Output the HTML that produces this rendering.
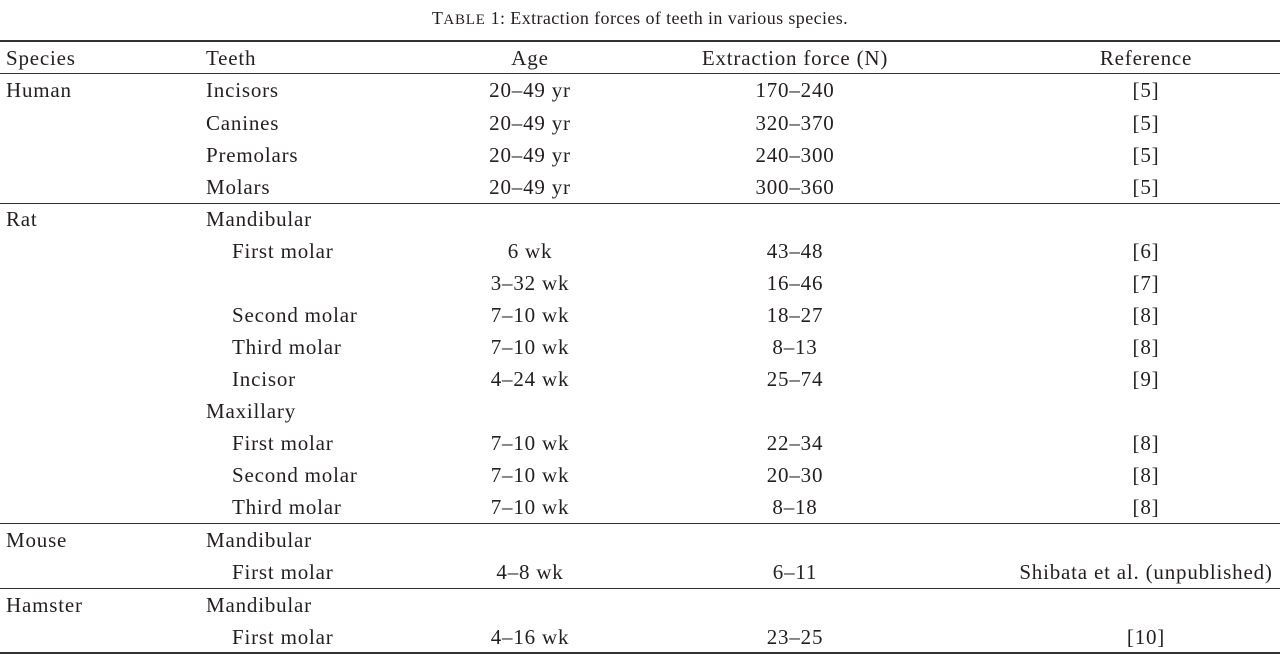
<!DOCTYPE html>
<html><head><style>
body{margin:0;width:1280px;height:654px;background:#fff;position:relative;overflow:hidden;font-family:"Liberation Serif",serif;color:#231f20;font-size:21px;letter-spacing:0.8px}
.r{position:absolute;left:0;width:1280px;height:1.5px;background:#333}
.t{position:absolute;line-height:32px;white-space:nowrap}
.c{position:absolute;line-height:32px;white-space:nowrap;transform:translateX(-50%)}
.sc{font-size:15px;letter-spacing:.8px}
</style></head><body>
<div class="c" style="left:640px;top:2px;font-size:18px;letter-spacing:0.4px">T<span class="sc">ABLE</span> 1: Extraction forces of teeth in various species.</div>
<div class="r" style="top:40px"></div>
<div class="r" style="top:73px;height:1px"></div>
<div class="r" style="top:203px;height:1px"></div>
<div class="r" style="top:523px;height:1px"></div>
<div class="r" style="top:588px;height:1px"></div>
<div class="r" style="top:652px"></div>
<div id="rows"></div>
<script>
var rows=[
[42,"Species","Teeth","Age","Extraction force (N)","Reference",0],
[74,"Human","Incisors","20–49 yr","170–240","[5]",0],
[107,"","Canines","20–49 yr","320–370","[5]",0],
[139,"","Premolars","20–49 yr","240–300","[5]",0],
[171,"","Molars","20–49 yr","300–360","[5]",0],
[203,"Rat","Mandibular","","","",0],
[235,"","First molar","6 wk","43–48","[6]",1],
[267,"","","3–32 wk","16–46","[7]",1],
[299,"","Second molar","7–10 wk","18–27","[8]",1],
[331,"","Third molar","7–10 wk","8–13","[8]",1],
[363,"","Incisor","4–24 wk","25–74","[9]",1],
[395,"","Maxillary","","","",0],
[427,"","First molar","7–10 wk","22–34","[8]",1],
[459,"","Second molar","7–10 wk","20–30","[8]",1],
[491,"","Third molar","7–10 wk","8–18","[8]",1],
[524,"Mouse","Mandibular","","","",0],
[556,"","First molar","4–8 wk","6–11","Shibata et al. (unpublished)",1],
[589,"Hamster","Mandibular","","","",0],
[621,"","First molar","4–16 wk","23–25","[10]",1]];
var h="";
rows.forEach(function(r){
h+='<div class="t" style="left:6px;top:'+r[0]+'px">'+r[1]+'</div>';
h+='<div class="t" style="left:'+(r[6]?232:206)+'px;top:'+r[0]+'px">'+r[2]+'</div>';
h+='<div class="c" style="left:530px;top:'+r[0]+'px">'+r[3]+'</div>';
h+='<div class="c" style="left:795px;top:'+r[0]+'px">'+r[4]+'</div>';
h+='<div class="c" style="left:1146px;top:'+r[0]+'px">'+r[5]+'</div>';
});
document.getElementById("rows").innerHTML=h;
</script>
</body></html>
